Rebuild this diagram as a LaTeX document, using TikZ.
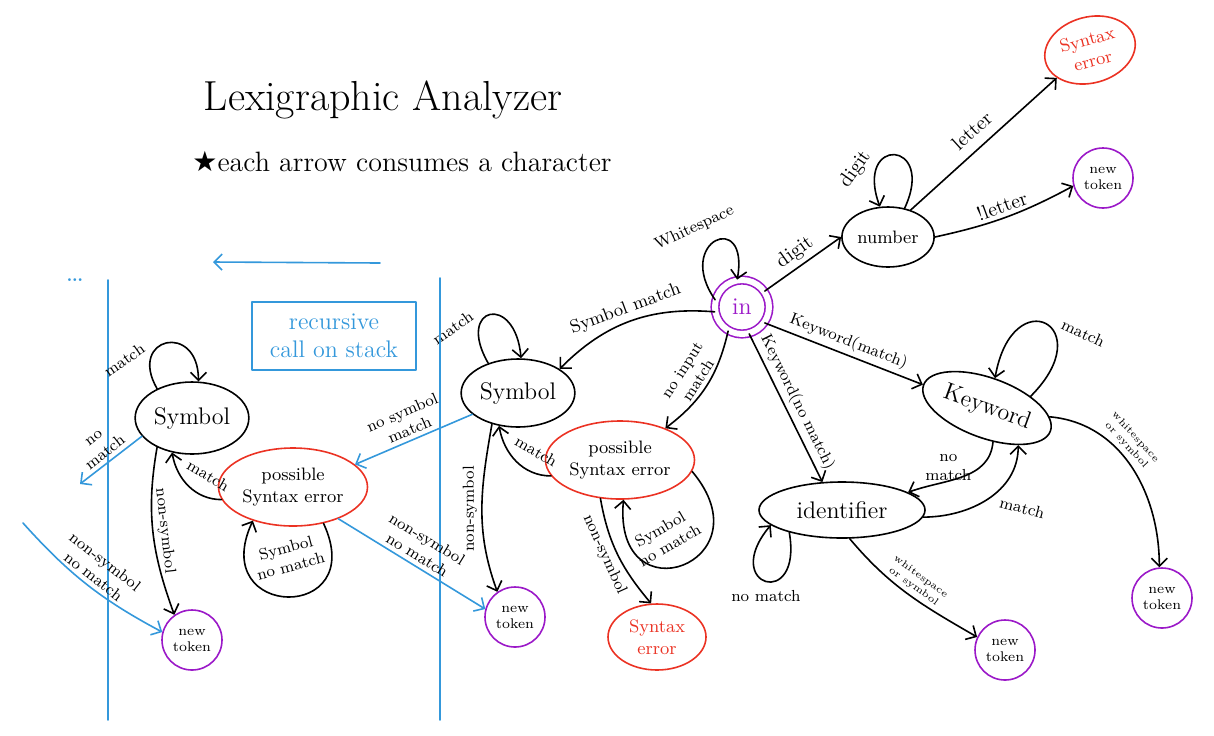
\documentclass[tikz,border=0pt]{standalone}
\usepackage{fontspec}
\newfontfamily\starfont{DejaVu Sans}
\usetikzlibrary{arrows.meta,shapes.geometric}

\definecolor{penblue}{RGB}{52,152,219}
\definecolor{penred}{RGB}{235,50,35}
\definecolor{penpurple}{RGB}{155,25,200}

\tikzset{
  state/.style={ellipse,draw,thick,align=center,inner sep=1pt},
  maybe/.style={state,draw=penred},
  fail/.style={state,draw=penred,text=penred,font=\small},
  tok/.style={circle,draw=penpurple,thick,align=center,font=\scriptsize,inner sep=0pt,minimum size=30pt},
  arr/.style={thick,-{Straight Barb[length=4pt,width=8pt]}},
  lbl/.style={font=\footnotesize,align=center,inner sep=2pt},
  stack/.style={draw=penblue,thick},
}

\begin{document}
\begin{tikzpicture}[x=0.5pt,y=0.5pt,line cap=round,line join=round]
\useasboundingbox (0,0) rectangle (1214,-735);

%Title
\node[font=\fontsize{21}{24}\selectfont] (title) at (383,-100) {Lexigraphic Analyzer};
\node[font=\fontsize{14}{17}\selectfont] (sub) at (402,-162) {{\starfont ★}each arrow consumes a character};

%Start
\node[circle,draw=penpurple,text=penpurple,thick,double,double distance=3pt,minimum size=27pt,font=\large] (in) at (742,-307) {in};
\draw[arr] (in.165) to[out=125,in=80,distance=36pt] node[lbl,pos=.5,above=1pt,xshift=-8pt,rotate=25]{Whitespace} (in.100);

%Number
\begin{scope}
\node[state,font=\small,minimum width=37pt,minimum height=30pt] (num) at (888,-237) {number};
\node[fail,minimum width=46pt,minimum height=33pt,rotate=15] (syn1) at (1090,-50) {Syntax\\error};
\node[tok] (tk1) at (1103,-178) {new\\token};

\draw[arr] (in.35) -- node[lbl,above,sloped,font=\normalsize]{digit} (num.west);
\draw[arr] (num.60) to[out=65,in=110,distance=38pt] node[lbl,pos=.65,above left=1pt,rotate=55,font=\normalsize]{digit} (num.105);
\draw[arr] (num.50) -- node[lbl,above=3pt,sloped,font=\normalsize]{letter} (syn1.205);
\draw[arr] (num.east) to[bend right=8] node[lbl,above,sloped,font=\normalsize]{!letter} (tk1.195);
\end{scope}

%Keyword
\begin{scope}
\node[state,font=\large,minimum width=58pt,minimum height=30pt,rotate=-20] (kw) at (987,-408) {Keyword};
\node[state,font=\large,minimum width=83pt,minimum height=28pt] (id) at (842,-510) {identifier};
\node[tok] (tk2) at (1005,-650) {new\\token};
\node[tok] (tk3) at (1162,-598) {new\\token};

\draw[arr] (in.-35) -- node[lbl,above,sloped]{Keyword(match)} (kw.west);
\draw[arr] (in.-75) -- node[lbl,above,sloped]{Keyword(no match)} (id.125);
\draw[arr] (kw.35) to[out=45,in=80,distance=50pt] node[lbl,pos=.4,above right,rotate=-25]{match} (kw.95);
\draw[arr] (kw.-60) to[out=-95,in=20] node[lbl,pos=.3,left=2pt]{no\\match} (id.15);
\draw[arr] (id.-5) to[out=0,in=-90] node[lbl,pos=.6,below right,rotate=-15]{match} (kw.-30);
\draw[arr] (kw.12) to[out=-5,in=90] node[lbl,pos=.4,above,sloped,font=\tiny]{whitespace\\or symbol} (tk3.95);
\draw[arr] (id.-75) to[out=-50,in=150] node[lbl,pos=.5,above,sloped,font=\tiny]{whitespace\\or symbol} (tk2.155);
\draw[arr] (id.-157) to[out=-80,in=-130,distance=40pt] node[lbl,pos=.5,below=2pt]{no match} (id.-168);
\end{scope}

%Symbol
\begin{scope}
\node[state,font=\large,minimum width=53pt,minimum height=34pt] (sym) at (518,-393) {Symbol};
\node[maybe,font=\small,minimum width=67pt,minimum height=39pt] (pse) at (620,-460) {possible\\Syntax error};
\node[tok] (tk4) at (515,-617) {new\\token};
\node[fail,minimum width=49pt,minimum height=33pt] (syn2) at (657,-637) {Syntax\\error};

\draw[arr] (in.190) to[bend right=25] node[lbl,above,sloped,font=\small]{Symbol match} (sym.30);
\draw[arr] (in.240) to[bend left=20] node[lbl,above,sloped]{no input\\match} (pse.35);
\draw[arr] (sym.135) to[out=120,in=95,distance=33pt] node[lbl,pos=.35,above left,rotate=35]{match} (sym.85);
\draw[arr] (sym.-130) to[out=-100,in=110] node[lbl,above,sloped]{non-symbol} (tk4.125);
\draw[arr] (pse.-167) to[out=180,in=-80] node[lbl,pos=.35,above=4pt,xshift=3pt,rotate=-30]{match} (sym.-120);
\draw[arr] (pse.-9) to[out=-50,in=-95,distance=60pt] node[lbl,pos=.5,xshift=-9pt,yshift=14pt,rotate=30]{Symbol\\no match} (pse.-85);
\draw[arr] (pse.-117) to[out=-80,in=130] node[lbl,pos=.45,below,sloped]{non-symbol} (syn2.100);
\end{scope}

%Stack
\begin{scope}
\node[maybe,font=\small,minimum width=67pt,minimum height=39pt] (pse0) at (293,-487) {possible\\Syntax error};
\node[state,font=\large,minimum width=53pt,minimum height=36pt] (sym0) at (192,-418) {Symbol};
\node[tok] (tk0) at (192,-640) {new\\token};
\node[draw=penblue,text=penblue,thick,align=center,font=\large,minimum width=82pt,minimum height=34pt] (note) at (334,-336) {recursive\\call on stack};
\node[text=penblue,font=\Large] (dots) at (75,-280) {\dots};
\coordinate (back) at (380,-263);
\coordinate (front) at (213,-262);
\coordinate (away) at (80,-484);
\coordinate (into) at (23,-523);

\draw[stack] (108,-280) -- (108,-720);
\draw[stack] (440,-278) -- (440,-720);
\draw[stack,arr] (back) -- (front);

\draw[stack,arr] (sym.-155) -- node[lbl,above,sloped]{no symbol\\match} (pse0.20);
\draw[stack,arr] (pse0.-35) -- node[lbl,above,sloped]{non-symbol\\no match} (tk4.165);
\draw[arr] (sym0.140) to[out=120,in=90,distance=30pt] node[lbl,pos=.3,above left,rotate=35]{match} (sym0.80);
\draw[stack,arr] (sym0.-160) -- node[lbl,above,sloped]{no\\match} (away);
\draw[arr] (sym0.-140) to[out=-100,in=110] node[lbl,above,sloped]{non-symbol} (tk0.125);
\draw[arr] (pse0.-170) to[out=180,in=-80] node[lbl,pos=.35,above=4pt,xshift=3pt,rotate=-30]{match} (sym0.-120);
\draw[arr] (pse0.-50) to[out=-65,in=-115,distance=55pt] node[lbl,pos=.5,yshift=20pt,rotate=15]{Symbol\\no match} (pse0.-140);
\draw[stack,arr] (into) to[bend right=10] node[lbl,above,sloped]{non-symbol\\no match} (tk0.165);
\end{scope}

\end{tikzpicture}
\end{document}
